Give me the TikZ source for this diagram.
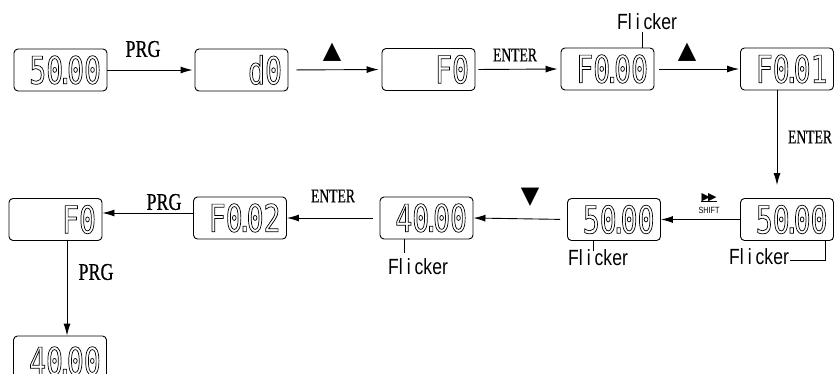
\documentclass[tikz,border=0pt]{standalone}
\usepackage{fontspec}
\usetikzlibrary{arrows.meta}
\newfontfamily\lcdfont[FakeStretch=0.74]{DejaVu Sans Mono}
\newfontfamily\serifn[FakeStretch=0.75,FakeBold=0.6]{Liberation Serif}
\newfontfamily\sansn[FakeStretch=0.8]{Liberation Sans}
\newfontfamily\symfont{DejaVu Sans}
\newcommand\dpt{\kern-6.5pt.\kern-6.5pt}
\newcommand\outl[1]{\special{pdf:literal direct 1 Tr 0.7 w}#1\special{pdf:literal direct 0 Tr}}
\begin{document}
\begin{tikzpicture}[x=1pt,y=-1pt,
  lcd/.style={draw, line width=0.9pt, rounded corners=4pt, minimum width=93pt, minimum height=42pt,
     inner sep=0pt, text width=81pt, align=right, font=\lcdfont\fontsize{38}{38}\selectfont},
  digits/.style={inner sep=0pt, font=\lcdfont\fontsize{38}{38}\selectfont},
  arr/.style={-{Latex[length=12pt,width=7pt]}, line width=0.9pt},
  lead/.style={line width=0.6pt},
  keylbl/.style={inner sep=0pt, font=\serifn\fontsize{24}{24}\selectfont},
  entlbl/.style={inner sep=0pt, font=\serifn\addfontfeature{FakeStretch=0.7}\fontsize{19.5}{19.5}\selectfont},
  tri/.style={inner sep=0pt, font=\symfont\fontsize{24}{24}\selectfont},
  flk/.style={inner sep=0pt, font=\sansn\fontsize{22}{22}\selectfont}]
\useasboundingbox (0,0) rectangle (834,374);
\clip (0,0) rectangle (834,374);
% top row
\node[lcd] (b1) at (60.5,70) {\outl{50\dpt00}};
\node[lcd] (b2) at (241.5,70) {\outl{d0}};
\node[lcd] (b3) at (428.5,69.5) {\outl{F0}};
\node[lcd] (b4) at (607.5,69) {\outl{F0\dpt00}};
\node[lcd] (b5) at (787,69) {\outl{F0\dpt01}};
% second row
\node[lcd] (c1) at (787,219.5) {\outl{50\dpt00}};
\node[lcd] (c2) at (614,219.5) {\outl{50\dpt00}};
\node[lcd] (c3) at (426.5,218) {\outl{40\dpt00}};
\node[lcd] (c4) at (240,218) {\outl{F0\dpt02}};
\node[lcd] (c5) at (55.5,219.5) {\outl{F0}};
% bottom
\node[lcd] (d1) at (60,357) {};
\node[digits, anchor=east] (d1t) at ([xshift=-6pt,yshift=-4pt]d1.east) {\outl{40\dpt00}};
% arrows
\draw[arr, shorten >=2pt] (b1.east) -- (b2.west);
\draw[arr, shorten <=8pt, shorten >=3pt] (b2.east) -- (b3.west);
\draw[arr, shorten <=3pt, shorten >=3pt] (b3.east) -- (b4.west);
\draw[arr, shorten <=5pt, shorten >=1pt] (b4.east) -- (b5.west);
\draw[arr, shorten >=13pt] ([xshift=-10pt]b5.south) -- ([xshift=-10pt]c1.north);
\draw[arr] (c1.west) -- (c2.east);
\draw[arr, shorten <=7pt] (c2.west) -- (c3.east);
\draw[arr, shorten <=7pt] (c3.west) -- (c4.east);
\draw[arr] ([yshift=5pt]c4.west) -- ([yshift=5pt]c4.west -| c5.east);
\draw[arr] ([xshift=11.5pt]c5.south) -- ([xshift=11.5pt]c5.south |- d1.north);
% key labels
\node[keylbl] (k1) at (143,49) {PRG};
\node[tri] (k2) at (332,52) {▲};
\node[entlbl] (k3) at (515,55) {ENTER};
\node[tri] (k4) at (687,52) {▲};
\node[entlbl] (k5) at (810,137) {ENTER};
\node[inner sep=0pt, font=\symfont\fontsize{11}{11}\selectfont] (k6) at (709,198) {▶\kern-2pt▶};
\draw[line width=0.9pt] ([yshift=0.5pt]k6.south west) -- ([yshift=0.5pt]k6.south east);
\node[inner sep=0pt, font=\sansn\fontsize{9}{9}\selectfont] (k6b) at (709,210.5) {SHIFT};
\node[tri] (k7) at (530,197) {▼};
\node[entlbl] (k8) at (333,196) {ENTER};
\node[keylbl] (k9) at (164,202) {PRG};
\node[keylbl] (k10) at (96,272) {PRG};
% flicker labels
\node[flk] (f1) at (647,22) {Fl\kern4pt i\kern4pt cker};
\draw[lead] ([xshift=34.5pt]b4.north) -- ++(0,-16);
\node[flk] (f2) at (418,267) {Fl\kern4pt i\kern4pt cker};
\draw[lead] ([xshift=-22.5pt]c3.south) -- ++(0,14);
\node[flk] (f3) at (598,258) {Fl\kern4pt i\kern4pt cker};
\draw[lead] ([xshift=-21pt]c2.south) -- ++(0,10);
\node[flk] (f4) at (759,257) {Fl\kern4pt i\kern4pt cker};
\draw[lead] ([xshift=38pt]c1.south) |- ([xshift=1pt]f4.east |- 0,260);
\end{tikzpicture}
\end{document}
